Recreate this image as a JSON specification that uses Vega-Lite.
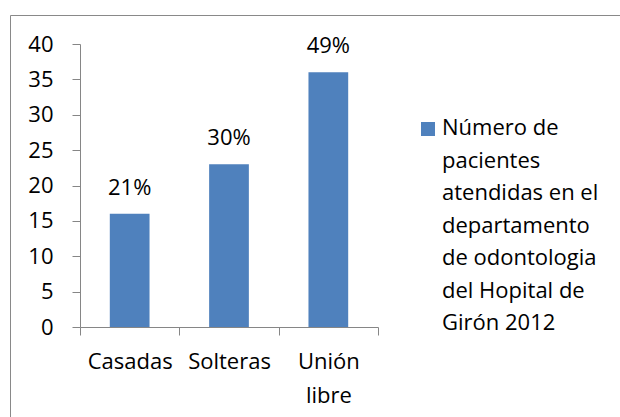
{
  "$schema": "https://vega.github.io/schema/vega-lite/v6.json",
  "width": 615,
  "height": 407,
  "autosize": {"type": "none"},
  "padding": {"left": 10, "top": 15, "right": -5, "bottom": -5},
  "background": "white",
  "config": {
    "view": {"stroke": "#898989", "strokeWidth": 1},
    "font": "Open Sans",
    "axis": {
      "grid": false,
      "domainColor": "#868686",
      "tickColor": "#868686",
      "labelColor": "#000000",
      "labelFontSize": 22,
      "labelFont": "Open Sans",
      "tickSize": 8,
      "title": null
    }
  },
  "data": {
    "values": [
      {"estado": "Casadas", "n": 16, "pct": "21%", "serie": "Número de pacientes atendidas en el departamento de odontologia del Hopital de Girón 2012"},
      {"estado": "Solteras", "n": 23, "pct": "30%", "serie": "Número de pacientes atendidas en el departamento de odontologia del Hopital de Girón 2012"},
      {"estado": "Unión libre", "n": 36, "pct": "49%", "serie": "Número de pacientes atendidas en el departamento de odontologia del Hopital de Girón 2012"}
    ]
  },
  "encoding": {
    "x": {
      "field": "estado",
      "type": "nominal",
      "sort": null,
      "scale": {"range": [70, 368], "paddingInner": 0, "paddingOuter": 0},
      "axis": {
        "offset": -95,
        "tickBand": "extent",
        "labelAngle": 0,
        "labelPadding": 16,
        "labelLineHeight": 34,
        "labelExpr": "datum.value == 'Unión libre' ? ['Unión', 'libre'] : datum.value"
      }
    },
    "y": {
      "field": "n",
      "type": "quantitative",
      "scale": {"domain": [0, 40], "range": [312, 29], "nice": false},
      "axis": {
        "offset": -70,
        "values": [0, 5, 10, 15, 20, 25, 30, 35, 40],
        "labelPadding": 19
      }
    }
  },
  "layer": [
    {
      "mark": {"type": "bar", "width": {"band": 0.4}},
      "encoding": {
        "color": {
          "field": "serie",
          "type": "nominal",
          "scale": {"range": ["#4F81BD"]},
          "legend": {
            "orient": "none",
            "legendX": 407,
            "legendY": 103,
            "title": null,
            "padding": 0,
            "symbolType": "square",
            "symbolSize": 196,
            "symbolStrokeWidth": 0,
            "labelFontSize": 22,
            "labelFont": "Open Sans",
            "labelColor": "#000000",
            "labelLimit": 400,
            "labelOffset": 3,
            "labelBaseline": "alphabetic",
            "labelExpr": "['Número de', 'pacientes', 'atendidas en el', 'departamento', 'de odontologia', 'del Hopital de', 'Girón 2012']",
            "encode": {"labels": {"update": {"lineHeight": {"value": 32.5}, "dy": {"value": 6}}}}
          }
        }
      }
    },
    {
      "mark": {"type": "text", "dy": -19, "baseline": "alphabetic", "fontSize": 22, "font": "Open Sans", "color": "#000000"},
      "encoding": {"text": {"field": "pct"}}
    }
  ]
}
